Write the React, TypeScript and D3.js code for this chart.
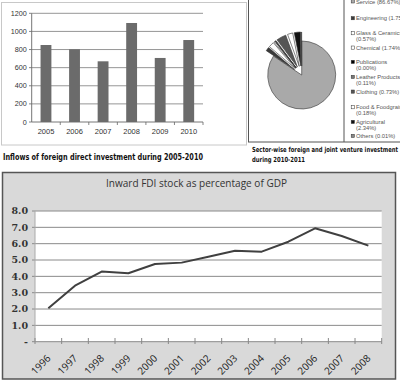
import React from "react";
import * as d3 from "d3";

const barYears = ["2005", "2006", "2007", "2008", "2009", "2010"];
const barValues = [850, 803, 670, 1093, 707, 905];
const barTicks = [0, 200, 400, 600, 800, 1000, 1200];

const sectorNames = [
  "Service", "Engineering", "Glass & Ceramics", "Chemical", "Publications",
  "Leather Products", "Clothing", "Food & Foodgrain", "Agricultural", "Others",
];
// slice sizes as they appear in the pie (share of the drawn circle)
const sectorSlices = [84.4, 1.8, 2.6, 0.6, 0.1, 0.3, 4.6, 2.5, 3.0, 0.1];
const legendLines = [
  ["Service (86.67%)"],
  ["Engineering (1.75%)"],
  ["Glass & Ceramics", "(0.57%)"],
  ["Chemical (1.74%)"],
  ["Publications", "(0.00%)"],
  ["Leather Products", "(0.11%)"],
  ["Clothing (0.73%)"],
  ["Food & Foodgrain", "(0.18%)"],
  ["Agricultural", "(2.34%)"],
  ["Others (0.01%)"],
];
const sectorColors = ["#a9a9a9", "#3a3a3a", "#ffffff", "#ffffff", "#000000", "#777777", "#555555", "#ffffff", "#111111", "#888888"];

const fdiYears = ["1996", "1997", "1998", "1999", "2000", "2001", "2002", "2003", "2004", "2005", "2006", "2007", "2008"];
const fdiValues = [2.05, 3.43, 4.29, 4.19, 4.76, 4.84, 5.2, 5.57, 5.51, 6.12, 6.94, 6.47, 5.88];
const fdiTicks = [0, 1, 2, 3, 4, 5, 6, 7, 8];

export default function App() {
  // Bar chart
  const bx = d3.scaleBand().domain(barYears).range([31.7, 203]).paddingInner(0.62).paddingOuter(0.31);
  const by = d3.scaleLinear().domain([0, 1200]).range([122, 13.3]);
  const bxOuter = d3.scaleBand().domain(barYears).range([31.7, 203]);

  // Pie
  const pcx = 301.7, pcy = 75, pr = 34;
  const pie = d3.pie<number>().sort(null).value((d) => d);
  const arcs = pie(sectorSlices);
  const arcGen = d3.arc<d3.PieArcDatum<number>>().innerRadius(0).outerRadius(pr);
  const legendY = [1.5, 18.3, 33.3, 47.7, 62, 77, 91.7, 107.3, 122, 136];

  // Line chart
  const lx = d3.scaleBand().domain(fdiYears).range([35, 381.7]);
  const ly = d3.scaleLinear().domain([0, 8]).range([341.7, 211]);
  const lineGen = d3.line<number>()
    .x((_, i) => (lx(fdiYears[i]) as number) + lx.bandwidth() / 2)
    .y((d) => ly(d));

  const condensed = "'Liberation Sans Narrow', 'DejaVu Sans Condensed', 'Liberation Sans', sans-serif";

  return (
    <svg width={400} height={382} style={{ position: "absolute", left: 0, top: 0, background: "#fff" }}>
      {/* Bar chart box */}
      <rect x={1.5} y={2.5} width={245} height={142.5} fill="#fff" stroke="#c8c8c8" />
      {barTicks.map((t) => (
        <g key={t}>
          <line x1={31.7} x2={203} y1={by(t)} y2={by(t)} stroke={t === 0 ? "#666" : "#8a8a8a"} strokeWidth={0.9} />
          <line x1={29} x2={31.7} y1={by(t)} y2={by(t)} stroke="#666" strokeWidth={0.8} />
          <text x={26.7} y={by(t)} dy="0.35em" textAnchor="end" fontSize={7.2} fill="#333" fontFamily="'Liberation Sans', Arial, sans-serif">{t}</text>
        </g>
      ))}
      <line x1={31.7} x2={31.7} y1={13.3} y2={122} stroke="#666" strokeWidth={0.9} />
      {barYears.map((y, i) => (
        <g key={y}>
          <rect x={bx(y)} y={by(barValues[i])} width={bx.bandwidth()} height={by(0) - by(barValues[i])} fill="#6b6b6b" />
          <line x1={(bxOuter(y) as number) + bxOuter.bandwidth()} x2={(bxOuter(y) as number) + bxOuter.bandwidth()} y1={122} y2={125} stroke="#666" strokeWidth={0.8} />
          <text x={(bx(y) as number) + bx.bandwidth() / 2} y={131.7} dy="0.35em" textAnchor="middle" fontSize={7.5} fill="#333" fontFamily="'Liberation Sans', Arial, sans-serif">{y}</text>
        </g>
      ))}
      <text x={3} y={159.5} fontSize={9.5} fontWeight="bold" fill="#111" fontFamily={condensed} textLength={200} lengthAdjust="spacingAndGlyphs">Inflows of foreign direct investment during 2005-2010</text>

      {/* Pie box */}
      <rect x={248.5} y={-2} width={155} height={144} fill="#fff" stroke="#555" />
      <line x1={344} x2={344} y1={-2} y2={142} stroke="#555" strokeWidth={1} />
      {arcs.map((a, i) => {
        const mid = (a.startAngle + a.endAngle) / 2;
        const off = i === 0 ? 0 : 9;
        const dx = Math.sin(mid) * off;
        const dy = -Math.cos(mid) * off;
        return (
          <path key={i} d={arcGen(a) || ""} transform={`translate(${pcx + dx},${pcy + dy})`} fill={sectorColors[i]} stroke="#333" strokeWidth={0.6} />
        );
      })}
      {sectorNames.map((n, i) => (
        <g key={n}>
          <rect x={351.2} y={legendY[i] - 1.7} width={3.2} height={3.2} fill={sectorColors[i]} stroke="#333" strokeWidth={0.5} />
          {legendLines[i].map((l, j) => (
            <text key={j} x={356} y={legendY[i] + j * 5.5} dy="0.35em" fontSize={5.8} fill="#555" fontFamily="'Liberation Sans', Arial, sans-serif">{l}</text>
          ))}
        </g>
      ))}
      <text x={252} y={152} fontSize={7} fontWeight="bold" fill="#111" fontFamily={condensed} textLength={146} lengthAdjust="spacingAndGlyphs">Sector-wise foreign and joint venture investment</text>
      <text x={252} y={161.5} fontSize={7} fontWeight="bold" fill="#111" fontFamily={condensed} textLength={53} lengthAdjust="spacingAndGlyphs">during 2010-2011</text>

      {/* Line chart */}
      <rect x={2.5} y={172.5} width={393} height={206.5} fill="#d9d9d9" stroke="#555" strokeWidth={1.5} />
      <rect x={35} y={211} width={346.7} height={130.7} fill="#fff" />
      <text x={196.5} y={186.5} textAnchor="middle" fontSize={10.5} fill="#333" fontFamily="'Open Sans', 'Liberation Sans', sans-serif" textLength={181} lengthAdjust="spacingAndGlyphs">Inward FDI stock as percentage of GDP</text>
      {fdiTicks.map((t) => (
        <g key={t}>
          <line x1={35} x2={381.7} y1={ly(t)} y2={ly(t)} stroke="#8a8a8a" strokeWidth={1} />
          <line x1={32} x2={35} y1={ly(t)} y2={ly(t)} stroke="#8a8a8a" strokeWidth={1} />
          <text x={28} y={ly(t)} dy="0.35em" textAnchor="end" fontSize={9.5} fontWeight="bold" fill="#333" fontFamily="'DejaVu Serif', serif">{t === 0 ? "-" : t.toFixed(1)}</text>
        </g>
      ))}
      <line x1={35} x2={35} y1={211} y2={341.7} stroke="#aaa" strokeWidth={1} />
      {fdiYears.map((y) => (
        <line key={y} x1={lx(y)} x2={lx(y)} y1={338} y2={344} stroke="#888" strokeWidth={1} />
      ))}
      <line x1={381.7} x2={381.7} y1={338} y2={344} stroke="#888" strokeWidth={1} />
      <path d={lineGen(fdiValues) || ""} fill="none" stroke="#404040" strokeWidth={2} strokeLinejoin="round" />
      {fdiYears.map((y) => {
        const cx = (lx(y) as number) + lx.bandwidth() / 2 + 3;
        const cy = 359;
        return (
          <text key={y} x={cx} y={cy} transform={`rotate(-45,${cx},${cy})`} textAnchor="end" fontSize={10} fill="#222" fontFamily="'Open Sans', 'Liberation Sans', sans-serif">{y}</text>
        );
      })}
    </svg>
  );
}
